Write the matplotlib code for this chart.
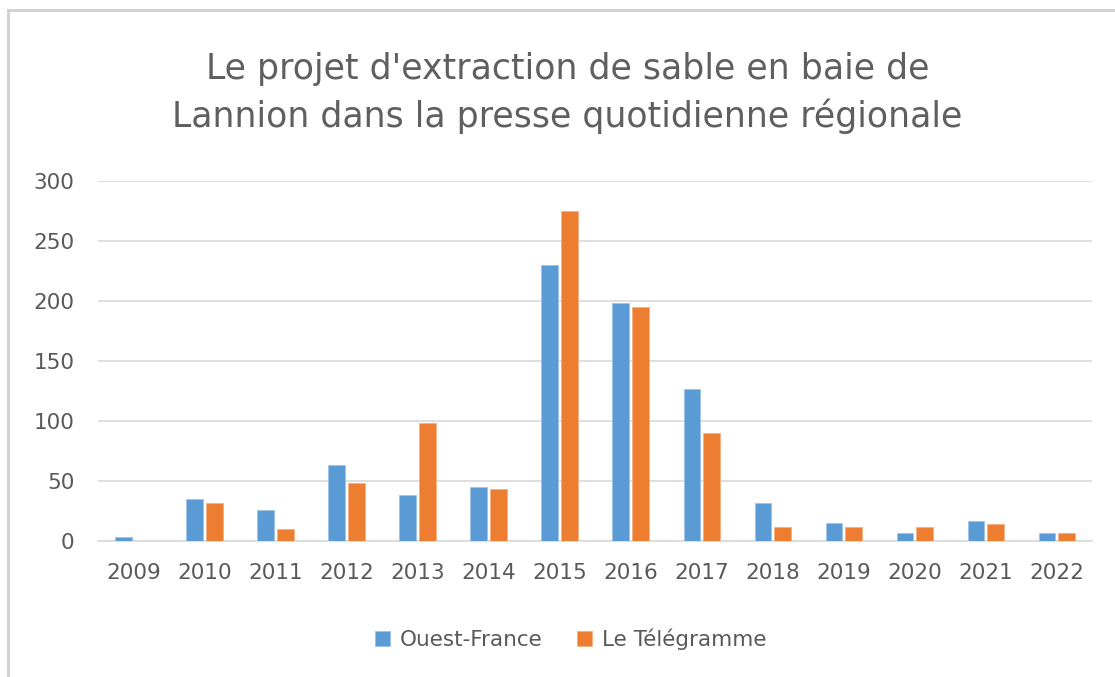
import matplotlib
matplotlib.use("Agg")
import matplotlib.pyplot as plt
import numpy as np
from matplotlib.lines import Line2D

years = ["2009", "2010", "2011", "2012", "2013", "2014", "2015", "2016",
         "2017", "2018", "2019", "2020", "2021", "2022"]
ouest_france = [3, 35, 26, 63, 38, 45, 230, 198, 127, 32, 15, 7, 17, 7]
le_telegramme = [0, 32, 10, 48, 98, 43, 275, 195, 90, 12, 12, 12, 14, 7]
yticks = [0, 50, 100, 150, 200, 250, 300]
title = "Le projet d'extraction de sable en baie de\nLannion dans la presse quotidienne régionale"

plt.rcParams['font.family'] = ['DejaVu Sans']
gray = "#595959"
blue = "#5B9BD5"
orange = "#ED7D31"

fig = plt.figure(figsize=(11.15, 6.77), dpi=100)
ax = fig.add_axes([97.9 / 1115, 0.2009, 994.3 / 1115, 0.5317])

x = np.arange(len(years))
w = 0.235
off = 0.137
ax.bar(x - off, ouest_france, w, color=blue, edgecolor="#9DC3E6", linewidth=0.6, label="Ouest-France", zorder=3)
ax.bar(x + off, le_telegramme, w, color=orange, edgecolor="#F4B183", linewidth=0.6, label="Le Télégramme", zorder=3)

ax.set_xlim(-0.5, len(years) - 0.5)
ax.set_ylim(0, 300)
ax.set_yticks(yticks)
ax.set_xticks(x)
ax.set_xticklabels(years)
ax.grid(axis="y", color="#D9D9D9", linewidth=1.2, zorder=0)
for s in ["top", "right", "left"]:
    ax.spines[s].set_visible(False)
ax.spines["bottom"].set_color("#D9D9D9")
ax.spines["bottom"].set_linewidth(1.2)
ax.tick_params(axis="both", length=0, labelsize=15.5, labelcolor=gray)
ax.tick_params(axis="y", pad=17)
ax.tick_params(axis="x", pad=16)

fig.text(0.509, 1 - 93 / 677, title, ha="center", va="center", fontsize=25, color="#5f5f5f",
         linespacing=1.45)

leg = fig.legend(loc="center", bbox_to_anchor=(0.512, 0.056), ncol=2, frameon=False,
                 fontsize=15.5, handlelength=0.7, handleheight=0.7, columnspacing=1.6,
                 handletextpad=0.45)
for t in leg.get_texts():
    t.set_color(gray)

# chart frame (top and left edges visible)
fig.add_artist(Line2D([8 / 1115, 1], [1 - 10 / 677, 1 - 10 / 677], transform=fig.transFigure,
                      color="#D0D0D0", linewidth=2))
fig.add_artist(Line2D([8 / 1115, 8 / 1115], [0, 1 - 10 / 677], transform=fig.transFigure,
                      color="#D0D0D0", linewidth=2))

fig.savefig("out.png", dpi=100, facecolor="white")
